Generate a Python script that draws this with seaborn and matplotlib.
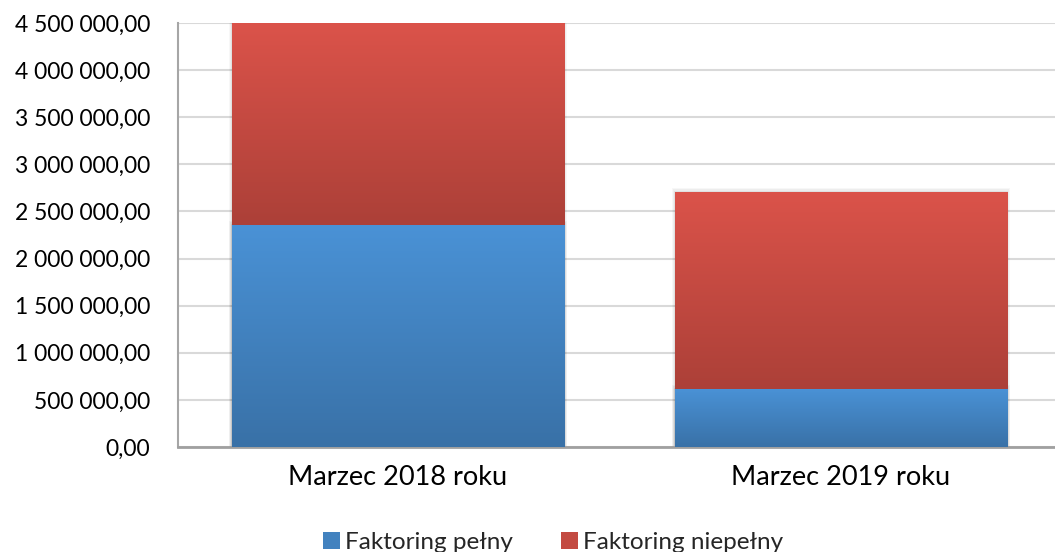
import numpy as np
import pandas as pd
import matplotlib
matplotlib.use("Agg")
import matplotlib.pyplot as plt
from matplotlib.ticker import FuncFormatter, MultipleLocator
from matplotlib.patches import Patch
import seaborn as sns

categories = ["Marzec 2018 roku", "Marzec 2019 roku"]
pelny = [2357000, 616000]
niepelny = [2143000, 2091000]
series_names = ["Faktoring pełny", "Faktoring niepełny"]

sns.set_theme(style="white")
plt.rcParams["font.family"] = ["Lato", "DejaVu Sans"]

blue_top, blue_bot = np.array([74, 146, 214]) / 255, np.array([57, 113, 167]) / 255
red_top, red_bot = np.array([219, 83, 74]) / 255, np.array([172, 64, 56]) / 255

totals = [a + b for a, b in zip(pelny, niepelny)]
df = pd.DataFrame({"cat": categories, "pelny": pelny, "total": totals})

fig = plt.figure(figsize=(10.55, 5.52), dpi=100)
ax = fig.add_axes([178 / 1055, 105 / 552, 877 / 1055, 424 / 552])

sns.barplot(data=df, x="cat", y="total", color=tuple(red_top), width=0.75, ax=ax, zorder=2)
n_red = len(ax.patches)
sns.barplot(data=df, x="cat", y="pelny", color=tuple(blue_top), width=0.75, ax=ax, zorder=3)

def grad_img(top, bot):
    t = np.linspace(0, 1, 256)[:, None]
    col = top[None, :] * (1 - t) + bot[None, :] * t
    return col[:, None, :]

patches = list(ax.patches)
for i, p in enumerate(patches):
    x0, w = p.get_x(), p.get_width()
    h = p.get_height()
    if i < n_red:
        ybot = pelny[i]
        img = grad_img(red_top, red_bot)
        z = 2.1
    else:
        ybot = 0
        img = grad_img(blue_top, blue_bot)
        z = 3.1
    p.set_edgecolor("none")
    # soft shadow
    for k, a in zip([6, 4, 2], [0.03, 0.04, 0.05]):
        dx = k * 0.0011
        ax.add_patch(plt.Rectangle((x0 - dx, 0), w + 2 * dx, h + k * 7000,
                                   facecolor="black", alpha=a, edgecolor="none", zorder=1.5))
    im = ax.imshow(img, extent=[x0, x0 + w, ybot, h], aspect="auto", zorder=z,
                   interpolation="bilinear")
    im.set_clip_path(p)

ax.set_xlim(-0.4966, 1.483)
ax.set_ylim(0, 4500000)
ax.yaxis.set_major_locator(MultipleLocator(500000))
ax.yaxis.set_major_formatter(FuncFormatter(lambda v, _: f"{v:,.2f}".replace(",", " ").replace(".", ",")))
ax.grid(axis="y", color="#D9D9D9", linewidth=1.5, zorder=0)
ax.set_axisbelow(True)
ax.set_xlabel("")
ax.set_ylabel("")
for s in ["top", "right"]:
    ax.spines[s].set_visible(False)
ax.spines["left"].set_color("#A6A6A6")
ax.spines["left"].set_linewidth(1.5)
ax.spines["bottom"].set_color("#A0A0A0")
ax.spines["bottom"].set_linewidth(2)
ax.tick_params(axis="y", labelsize=16.5, length=0, pad=20, colors="black")
ax.tick_params(axis="x", labelsize=19.5, length=0, pad=13, colors="black")

handles = [Patch(facecolor=tuple((blue_top + blue_bot) / 2), edgecolor="none"),
           Patch(facecolor=tuple((red_top + red_bot) / 2), edgecolor="none")]
fig.legend(handles, series_names, loc="center", bbox_to_anchor=(0.524, 0.018), ncol=2,
           frameon=False, fontsize=17.5, handlelength=0.7, handleheight=0.7,
           handletextpad=0.2, columnspacing=2.0)

fig.savefig("out.png", dpi=100)
